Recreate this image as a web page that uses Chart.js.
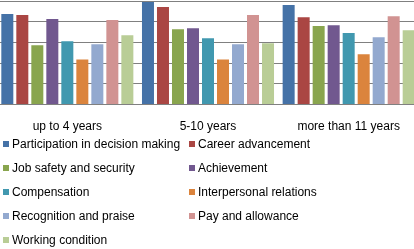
<!DOCTYPE html>
<html>
<head>
<meta charset="utf-8">
<script src="https://cdn.jsdelivr.net/npm/chart.js@4/dist/chart.umd.min.js"></script>
<style>
	html, body { margin: 0; padding: 0; background: #fff; }
	body { width: 414px; height: 249px; overflow: hidden; position: relative; font-family: "Liberation Sans", Arial, sans-serif; }
	#wrap { position: absolute; left: -3px; top: 0; width: 422px; height: 149px; }
	#legend { position: absolute; left: 0; top: 132px; width: 414px; display: grid; grid-template-columns: 186px 228px; }
	.item { display: flex; align-items: center; height: 24px; font-size: 12px; color: #000; white-space: nowrap; padding-left: 3px; }
	.box { width: 6px; height: 6px; margin-right: 3px; flex: none; }
</style>
</head>
<body>
<div id="wrap"><canvas id="chart" width="422" height="149"></canvas></div>
<div id="legend"></div>
<script>
(() => {
	'use strict'

	const categories = ['up to 4 years', '5-10 years', 'more than 11 years'];
	const seriesNames = [
		'Participation in decision making',
		'Career advancement',
		'Job safety and security',
		'Achievement',
		'Compensation',
		'Interpersonal relations',
		'Recognition and praise',
		'Pay and allowance',
		'Working condition'
	];
	const seriesColors = ['#4572A7', '#AA4643', '#89A54E', '#71588F', '#4198AF', '#DB843D', '#93A9CF', '#D19392', '#B9CD96'];

	const participation = [4.37, 4.95, 4.81];
	const career = [4.32, 4.71, 4.22];
	const jobSafety = [2.86, 3.64, 3.79];
	const achievement = [4.13, 3.69, 3.83];
	const compensation = [3.06, 3.20, 3.45];
	const interpersonal = [2.18, 2.18, 2.43];
	const recognition = [2.91, 2.91, 3.25];
	const payAllowance = [4.08, 4.32, 4.27];
	const workingCondition = [3.35, 2.96, 3.59];

	const seriesValues = [participation, career, jobSafety, achievement, compensation, interpersonal, recognition, payAllowance, workingCondition];

	const ctx = document.getElementById('chart');

	new Chart(ctx, {
		type: 'bar',
		data: {
			labels: categories,
			datasets: seriesNames.map((name, i) => ({
				label: name,
				data: seriesValues[i],
				backgroundColor: seriesColors[i],
				borderWidth: 0,
				categoryPercentage: 0.96,
				barPercentage: 0.8
			}))
		},
		options: {
			responsive: false,
			animation: false,
			layout: { padding: { top: 1, left: 0, right: 0, bottom: 0 } },
			plugins: {
				legend: { display: false },
				tooltip: { enabled: false }
			},
			scales: {
				x: {
					grid: { display: false, drawTicks: false },
					border: { display: false },
					ticks: {
						padding: 15,
						color: '#000',
						font: { family: '"Liberation Sans", Arial, sans-serif', size: 12 }
					}
				},
				y: {
					min: 0,
					max: 5,
					grid: { color: '#808080', lineWidth: 1, drawTicks: false },
					border: { display: false },
					ticks: { display: false, stepSize: 1 }
				}
			}
		}
	});

	const legend = document.getElementById('legend');
	legend.innerHTML = seriesNames.map((name, i) => (
		`<div class="item"><span class="box" style="background:${seriesColors[i]}"></span>${name}</div>`
	)).join('');
})()
</script>
</body>
</html>
